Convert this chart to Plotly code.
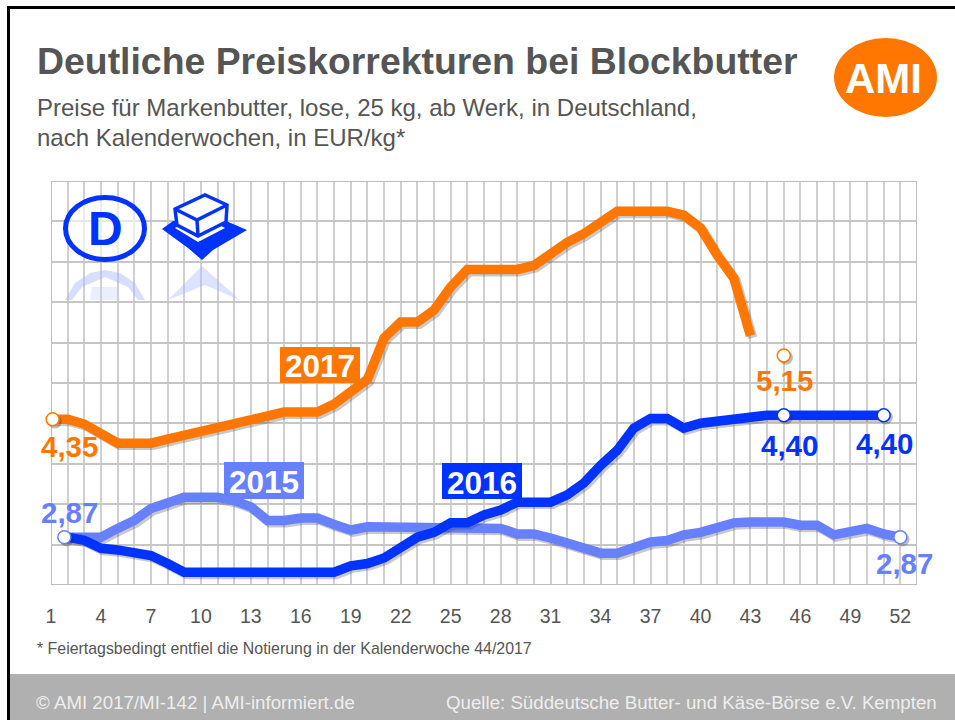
import plotly.graph_objects as go

W, H = 955, 720
FONT = "Liberation Sans, Arial, sans-serif"
ORANGE, BLUE, LIGHT = "#FF7700", "#0033FF", "#6680FF"
GRID_V = "#d0d0d0"
GRID_H = "#c6c6c6"
TEXT = "#555555"

# Data (EUR/kg by calendar week)
weeks_2015 = [1.8] + list(range(2, 53))
values_2015 = [2.87, 2.87, 2.87, 2.87, 2.98, 3.08, 3.23, 3.30, 3.37, 3.37, 3.37, 3.33, 3.25, 3.08, 3.08, 3.11, 3.11,
               3.03, 2.96, 3.00, 3.00, 3.00, 3.00, 3.00, 3.00, 3.00, 3.00, 2.98, 2.91, 2.91, 2.86, 2.80, 2.74, 2.67,
               2.67, 2.74, 2.81, 2.83, 2.90, 2.93, 3.00, 3.05, 3.06, 3.06, 3.06, 3.02, 3.02, 2.90, 2.93, 2.98, 2.91,
               2.87]
weeks_2016 = [1.8] + list(range(2, 52))
values_2016 = [2.87, 2.87, 2.83, 2.73, 2.71, 2.67, 2.64, 2.54, 2.43, 2.43, 2.43, 2.43, 2.43, 2.43, 2.43, 2.43, 2.43,
               2.43, 2.51, 2.54, 2.61, 2.74, 2.87, 2.93, 3.05, 3.05, 3.15, 3.21, 3.31, 3.31, 3.31, 3.40, 3.55, 3.77,
               3.96, 4.24, 4.36, 4.36, 4.24, 4.30, 4.33, 4.36, 4.40, 4.40, 4.40, 4.40, 4.40, 4.40, 4.40, 4.40, 4.40]
weeks_2017 = [1.1] + list(range(2, 44))
values_2017 = [4.35, 4.35, 4.29, 4.16, 4.05, 4.05, 4.05, 4.10, 4.15, 4.20, 4.25, 4.30, 4.36, 4.40, 4.44, 4.44, 4.44,
               4.54, 4.68, 4.85, 5.37, 5.57, 5.57, 5.72, 6.01, 6.23, 6.23, 6.23, 6.23, 6.28, 6.43, 6.57, 6.68, 6.81,
               6.96, 6.96, 6.96, 6.96, 6.91, 6.75, 6.41, 6.12, 5.40]
marker_weeks_2015 = [1.8, 52]
marker_values_2015 = [2.87, 2.87]
marker_weeks_2016 = [45, 51]
marker_values_2016 = [4.40, 4.40]
marker_weeks_2017 = [1.1, 45]
marker_values_2017 = [4.35, 5.15]
tick_weeks = list(range(1, 53, 3))
tick_labels = [str(w) for w in tick_weeks]

title = "Deutliche Preiskorrekturen bei Blockbutter"
subtitle_lines = ["Preise für Markenbutter, lose, 25 kg, ab Werk, in Deutschland,",
                  "nach Kalenderwochen, in EUR/kg*"]
footnote = "* Feiertagsbedingt entfiel die Notierung in der Kalenderwoche 44/2017"
footer_left = "© AMI 2017/MI-142 | AMI-informiert.de"
footer_right = "Quelle: Süddeutsche Butter- und Käse-Börse e.V. Kempten"


def px(x):
    return x / W


def py(y):
    return 1 - y / H


X_RANGE = [1, 53]
Y_RANGE = [2.27, 7.34]
SHADOW_DX = 2.2 * (X_RANGE[1] - X_RANGE[0]) / 866
SHADOW_DY = 2.2 * (Y_RANGE[1] - Y_RANGE[0]) / 404

fig = go.Figure()


def add_line(xs, ys, color, name):
    fig.add_trace(go.Scatter(x=[v + SHADOW_DX for v in xs], y=[v - SHADOW_DY for v in ys], mode="lines",
                             line=dict(color="rgba(40,40,40,0.25)", width=9.5), hoverinfo="skip", showlegend=False,
                             cliponaxis=False))
    fig.add_trace(go.Scatter(x=xs, y=ys, mode="lines", name=name, cliponaxis=False,
                             line=dict(color=color, width=9.5), showlegend=False))


def add_markers(xs, ys, color):
    fig.add_trace(go.Scatter(x=[v + SHADOW_DX for v in xs], y=[v - SHADOW_DY for v in ys], mode="markers",
                             marker=dict(size=14, color="rgba(40,40,40,0.3)"), hoverinfo="skip", showlegend=False,
                             cliponaxis=False))
    fig.add_trace(go.Scatter(x=xs, y=ys, mode="markers", showlegend=False, cliponaxis=False,
                             marker=dict(size=13, color="white", line=dict(color=color, width=1.5))))


add_line(weeks_2015, values_2015, LIGHT, "2015")
add_line(weeks_2016, values_2016, BLUE, "2016")
add_line(weeks_2017, values_2017, ORANGE, "2017")
add_markers(marker_weeks_2015, marker_values_2015, LIGHT)
add_markers(marker_weeks_2016, marker_values_2016, BLUE)
add_markers(marker_weeks_2017, marker_values_2017, ORANGE)


def rect(x0, y0, x1, y1, fill, layer="below", line=None):
    return dict(type="rect", xref="paper", yref="paper", x0=px(x0), x1=px(x1), y0=py(y0), y1=py(y1),
                fillcolor=fill, line=line or dict(width=0), layer=layer)


def poly(points, fill="rgba(0,0,0,0)", stroke=None, width=0, opacity=1.0, layer="above", close=True):
    d = "M " + " L ".join(f"{px(x):.5f},{py(y):.5f}" for x, y in points) + (" Z" if close else "")
    return dict(type="path", xref="paper", yref="paper", path=d, fillcolor=fill, opacity=opacity, layer=layer,
                line=dict(color=stroke, width=width) if stroke else dict(width=0))


def ellipse(x0, y0, x1, y1, fill="rgba(0,0,0,0)", stroke=None, width=0, opacity=1.0):
    return dict(type="circle", xref="paper", yref="paper", x0=px(x0), x1=px(x1), y0=py(y0), y1=py(y1),
                fillcolor=fill, opacity=opacity, layer="above",
                line=dict(color=stroke, width=width) if stroke else dict(width=0))


shapes = [
    rect(10, 674, 955, 720, "#b0b0b0"),
    rect(7, 6, 955, 9, "#000000"),
    rect(7, 6, 10, 720, "#000000"),
    # grid frame
    dict(type="rect", xref="x", yref="y", x0=X_RANGE[0], x1=X_RANGE[1], y0=Y_RANGE[0], y1=Y_RANGE[1],
         line=dict(color="#bdbdbd", width=2), fillcolor="rgba(0,0,0,0)", layer="between"),
    # year tags
    rect(280, 347, 360, 383, ORANGE, layer="above"),
    rect(224, 462, 304, 499, LIGHT, layer="above"),
    rect(442, 463, 522, 499, BLUE, layer="above"),
    # AMI logo
    ellipse(834, 38, 937, 117, fill=ORANGE),
    # D badge
    ellipse(65.5, 197.5, 144.5, 259.5, fill="rgba(255,255,255,0.6)", stroke=BLUE, width=5),
    # butter icon
    poly([(162, 229), (173, 221), (226, 221), (247, 230), (213, 250), (202, 260), (188, 248)], fill=BLUE),
    poly([(175, 228), (198, 242), (225, 228), (199, 214)], fill="white"),
    poly([(175, 209), (177, 225), (198, 236), (226, 222), (227, 205), (205, 195)], fill="white", stroke=BLUE, width=3.5),
    poly([(175, 209), (197, 220), (227, 205)], stroke=BLUE, width=3.5, close=False),
    poly([(197, 220), (198, 236)], stroke=BLUE, width=3.5, close=False),
    # reflections
    poly([(65, 300), (75, 283), (90, 273), (105, 270), (120, 273), (135, 283), (145, 300), (138, 300), (128, 287),
          (105, 277), (82, 287), (72, 300)], fill="#a9b6ff", opacity=0.45),
    poly([(90, 300), (92, 287), (118, 287), (120, 300)], fill="#c4ceff", opacity=0.35),
    poly([(168, 300), (202, 266), (240, 300), (205, 285)], fill="#a9b6ff", opacity=0.4),
]

annotations = []


def label(x, y, text, size, color, bold=False, anchor="center"):
    annotations.append(dict(xref="paper", yref="paper", x=px(x), y=py(y), text=f"<b>{text}</b>" if bold else text,
                            showarrow=False, xanchor=anchor, yanchor="middle",
                            font=dict(family=FONT, size=size, color=color), borderpad=0))


label(36, 61, title, 37.4, TEXT, bold=True, anchor="left")
label(36, 107, subtitle_lines[0], 24, TEXT, anchor="left")
label(36, 137, subtitle_lines[1], 24, TEXT, anchor="left")
label(36, 648, footnote, 15.9, TEXT, anchor="left")
label(35, 702, footer_left, 18.7, "#eeeeee", anchor="left")
label(938, 702, footer_right, 18.7, "#eeeeee", anchor="right")
label(883, 78, "AMI", 42, "white", bold=True)
label(105, 228, "D", 48, BLUE, bold=True)

label(320, 366, "2017", 31.5, "white", bold=True)
label(264, 482, "2015", 31.5, "white", bold=True)
label(482, 483, "2016", 31.5, "white", bold=True)
label(69, 446, "4,35", 29.5, ORANGE, bold=True)
label(69, 512, "2,87", 29.5, LIGHT, bold=True)
label(784, 380, "5,15", 29.5, ORANGE, bold=True)
label(789, 445, "4,40", 29.5, BLUE, bold=True)
label(884, 443, "4,40", 29.5, BLUE, bold=True)
label(904, 563, "2,87", 29.5, LIGHT, bold=True)

fig.update_layout(
    width=W, height=H, margin=dict(l=0, r=0, t=0, b=0, pad=0, autoexpand=False),
    paper_bgcolor="white", plot_bgcolor="white", showlegend=False, shapes=shapes, annotations=annotations,
    xaxis=dict(domain=[px(51), px(917)], range=X_RANGE, tickmode="array", tickvals=tick_weeks, ticktext=tick_labels,
               showgrid=True, gridcolor=GRID_V, gridwidth=2, zeroline=False, showline=False,
               ticks="outside", ticklen=14, tickcolor="rgba(0,0,0,0)", tickfont=dict(family=FONT, size=19.5, color=TEXT),
               minor=dict(dtick=1, tick0=1, showgrid=True, gridcolor=GRID_V, gridwidth=2, ticks="")),
    yaxis=dict(domain=[py(585), py(181)], range=Y_RANGE, tickmode="linear", tick0=Y_RANGE[0],
               dtick=(Y_RANGE[1] - Y_RANGE[0]) / 10, showgrid=True, gridcolor=GRID_H, gridwidth=2, zeroline=False,
               showline=False, showticklabels=False, ticks=""),
)

fig.write_html("out.html", config=dict(displayModeBar=False),
               post_script="document.body.style.margin='0';document.body.style.overflow='hidden';")
